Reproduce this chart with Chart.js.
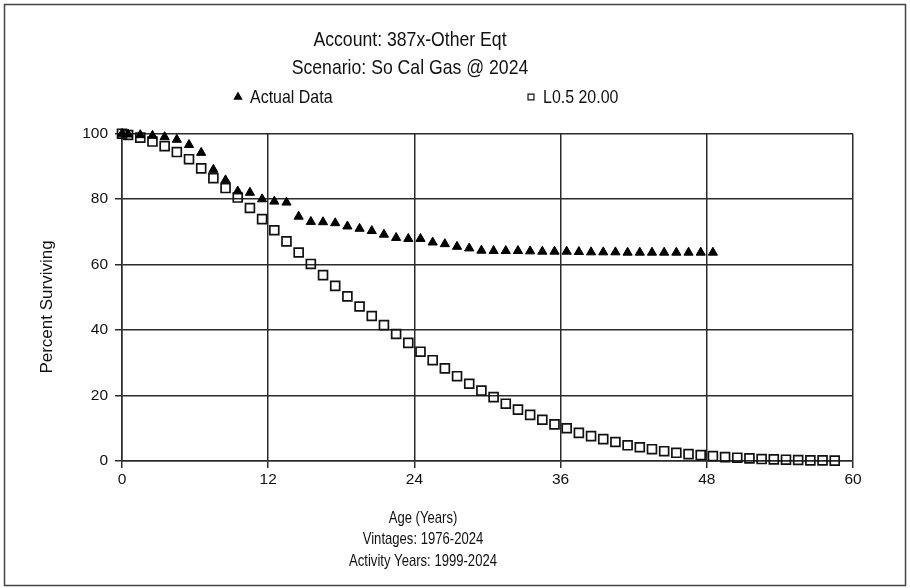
<!DOCTYPE html>
<html>
<head>
<meta charset="utf-8">
<title>Account 387x - Other Eqt</title>
<script src="https://cdn.jsdelivr.net/npm/chart.js@4.4.1/dist/chart.umd.min.js"></script>
<style>
    html, body { margin: 0; padding: 0; background: #fff; }
    #wrap { width: 910px; height: 588px; }
</style>
</head>
<body>
<div id="wrap"><canvas id="survivor-chart" width="910" height="588"></canvas></div>
<script>
const titleLines = ["Account: 387x-Other Eqt", "Scenario: So Cal Gas @ 2024"];
const xTitleLines = ["Age (Years)", "Vintages: 1976-2024", "Activity Years: 1999-2024"];
const yTitle = "Percent Surviving";
const seriesNames = ["Actual Data", "L0.5 20.00"];

const xTicks = [0, 12, 24, 36, 48, 60];
const yTicks = [0, 20, 40, 60, 80, 100];

// ages (years) at which the observed survivor ratios are plotted
const actualAges = [0, 0.5, 1.5, 2.5, 3.5, 4.5, 5.5, 6.5, 7.5, 8.5,
    9.5, 10.5, 11.5, 12.5, 13.5, 14.5, 15.5, 16.5, 17.5, 18.5,
    19.5, 20.5, 21.5, 22.5, 23.5, 24.5, 25.5, 26.5, 27.5, 28.5,
    29.5, 30.5, 31.5, 32.5, 33.5, 34.5, 35.5, 36.5, 37.5, 38.5,
    39.5, 40.5, 41.5, 42.5, 43.5, 44.5, 45.5, 46.5, 47.5, 48.5];
const actualPct = [100, 99.8, 99.6, 99.4, 99.0, 98.2, 96.6, 94.2, 89.0, 85.8,
    82.4, 82.0, 80.0, 79.3, 79.0, 74.7, 73.1, 73.0, 72.7, 71.7,
    71.0, 70.3, 69.2, 68.2, 67.9, 67.9, 66.8, 66.3, 65.5, 65.0,
    64.3, 64.2, 64.2, 64.2, 64.1, 64.0, 64.0, 64.0, 63.9, 63.8,
    63.8, 63.8, 63.7, 63.7, 63.7, 63.7, 63.7, 63.7, 63.7, 63.7];

// ages and percents of the fitted Iowa L0.5 curve, 20 year life
const curveAges = [0, 0.5, 1.5, 2.5, 3.5, 4.5, 5.5, 6.5, 7.5, 8.5,
    9.5, 10.5, 11.5, 12.5, 13.5, 14.5, 15.5, 16.5, 17.5, 18.5,
    19.5, 20.5, 21.5, 22.5, 23.5, 24.5, 25.5, 26.5, 27.5, 28.5,
    29.5, 30.5, 31.5, 32.5, 33.5, 34.5, 35.5, 36.5, 37.5, 38.5,
    39.5, 40.5, 41.5, 42.5, 43.5, 44.5, 45.5, 46.5, 47.5, 48.5,
    49.5, 50.5, 51.5, 52.5, 53.5, 54.5, 55.5, 56.5, 57.5, 58.5];
const curvePct = [100, 99.6, 98.8, 97.6, 96.2, 94.4, 92.2, 89.4, 86.4, 83.4,
    80.5, 77.3, 73.9, 70.5, 67.1, 63.7, 60.2, 56.8, 53.5, 50.3,
    47.2, 44.3, 41.5, 38.8, 36.1, 33.4, 30.8, 28.3, 25.9, 23.6,
    21.5, 19.5, 17.5, 15.7, 14.1, 12.6, 11.2, 10.0, 8.6, 7.6,
    6.7, 5.8, 4.8, 4.2, 3.6, 3.0, 2.5, 2.1, 1.8, 1.5,
    1.2, 1.0, 0.8, 0.6, 0.5, 0.4, 0.3, 0.2, 0.2, 0.1];

const FONT = '"Liberation Sans", Arial, sans-serif';
const INK = '#111';
const GRID = '#2b2b2b';
const NARROW = 0.84; // squeeze text to look like a narrow face

const toPoints = (xs, ys) => xs.map((x, i) => ({ x: x, y: ys[i] }));

function narrowText(ctx, text, x, y, size, squeeze) {
    ctx.save();
    ctx.translate(x, y);
    ctx.scale(squeeze, 1);
    ctx.font = size + 'px ' + FONT;
    ctx.fillText(text, 0, 0);
    ctx.restore();
}

// frame, titles, legend and axis captions
const sheetText = {
    id: 'sheetText',
    beforeDraw(chart) {
        const ctx = chart.ctx;
        ctx.save();
        ctx.fillStyle = '#fff';
        ctx.fillRect(0, 0, chart.width, chart.height);
        ctx.strokeStyle = '#444';
        ctx.lineWidth = 1.5;
        ctx.strokeRect(4.5, 4.5, 901, 581);
        ctx.restore();
    },
    afterDraw(chart) {
        const ctx = chart.ctx;
        ctx.save();
        ctx.fillStyle = INK;
        ctx.textAlign = 'center';
        ctx.textBaseline = 'middle';

        titleLines.forEach((t, i) => narrowText(ctx, t, 410, 40 + i * 28, 21, NARROW));

        // legend
        ctx.textAlign = 'left';
        const legendX = [238, 531];
        chart.data.datasets.forEach((ds, i) => {
            ctx.fillStyle = ds.backgroundColor;
            ctx.strokeStyle = ds.borderColor;
            ctx.lineWidth = 1.2;
            Chart.helpers.drawPoint(ctx, { pointStyle: ds.pointStyle, radius: 4.2, borderWidth: 1.2 }, legendX[i], 97);
            ctx.fillStyle = INK;
            narrowText(ctx, ds.label, legendX[i] + 12, 98, 19, NARROW);
        });

        ctx.textAlign = 'center';
        xTitleLines.forEach((t, i) => narrowText(ctx, t, 423, 518 + i * 21.5, 17, 0.77));

        ctx.translate(47, 307);
        ctx.rotate(-Math.PI / 2);
        narrowText(ctx, yTitle, 0, 0, 17, 1);
        ctx.restore();
    }
};

new Chart(document.getElementById("survivor-chart").getContext('2d'), {
    type: "scatter",
    data: {
        datasets: [{
            label: seriesNames[0],
            data: toPoints(actualAges, actualPct),
            pointStyle: 'triangle',
            pointRadius: 5.3,
            backgroundColor: '#000',
            borderColor: '#000',
            borderWidth: 1,
            clip: false
        }, {
            label: seriesNames[1],
            data: toPoints(curveAges, curvePct),
            pointStyle: 'rect',
            pointRadius: 6.3,
            backgroundColor: 'rgba(0,0,0,0)',
            borderColor: '#111',
            borderWidth: 1.7,
            clip: false
        }]
    },
    options: {
        responsive: false,
        animation: false,
        devicePixelRatio: 1,
        layout: { padding: { top: 133.7, right: 57, bottom: 0, left: 0 } },
        plugins: {
            legend: { display: false },
            title: { display: false },
            tooltip: { enabled: false }
        },
        scales: {
            x: {
                type: 'linear',
                min: xTicks[0],
                max: xTicks[xTicks.length - 1],
                afterBuildTicks: (scale) => { scale.ticks = xTicks.map(v => ({ value: v })); },
                ticks: { padding: 2, maxRotation: 0, color: INK, font: { family: FONT, size: 15.5 } },
                grid: { color: GRID, lineWidth: 1.5, tickLength: 7 },
                border: { color: GRID, width: 1.5 },
                afterFit: (scale) => { scale.height = 127; }
            },
            y: {
                min: yTicks[0],
                max: yTicks[yTicks.length - 1],
                afterBuildTicks: (scale) => { scale.ticks = yTicks.map(v => ({ value: v })); },
                ticks: { padding: 7, color: INK, font: { family: FONT, size: 15.5 } },
                grid: { color: GRID, lineWidth: 1.5, tickLength: 7 },
                border: { color: GRID, width: 1.5 },
                afterFit: (scale) => { scale.width = 122; }
            }
        }
    },
    plugins: [sheetText]
});
</script>
</body>
</html>
